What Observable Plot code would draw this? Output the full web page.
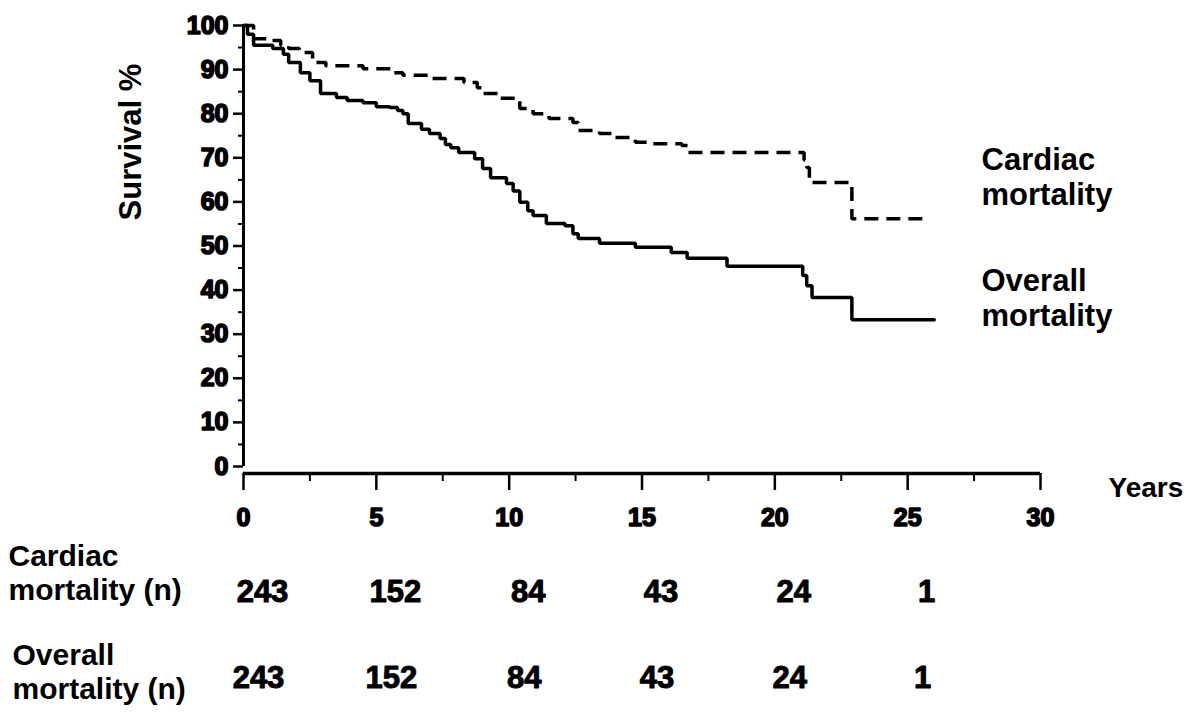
<!DOCTYPE html>
<html>
<head>
<meta charset="utf-8">
<script src="https://cdn.jsdelivr.net/npm/d3@7"></script>
<script src="https://cdn.jsdelivr.net/npm/@observablehq/plot@0.6"></script>
<style>
  html, body { margin: 0; padding: 0; background: #fff; }
</style>
</head>
<body>
<div id="chart"></div>
<script>
// Overall mortality (solid) Kaplan–Meier steps
const overallT = [0, 0.15, 0.38, 1.1, 1.5, 1.7, 2.14, 2.5, 2.9, 3.5, 3.9, 4.5, 5.0, 5.5, 5.8, 6.0, 6.2, 6.7, 7.0, 7.4, 7.6, 7.8, 8.1, 8.7, 9.0, 9.3, 9.9, 10.15, 10.4, 10.7, 10.9, 11.4, 12.1, 12.4, 12.6, 13.4, 14.75, 16.1, 16.7, 18.2, 21.05, 21.2, 21.4, 22.9, 26.0];
const overallS = [100, 98, 95.5, 94.8, 93.5, 91.6, 89.3, 87.5, 84.6, 83.7, 83, 82.5, 81.6, 81.4, 80.7, 80, 77.8, 76.5, 75.5, 74.4, 73, 72.3, 71.2, 69.8, 67.6, 65.5, 64.2, 62.5, 59.9, 58, 56.9, 55.1, 54.6, 52.8, 51.7, 50.6, 49.7, 48.5, 47.2, 45.4, 43.3, 41, 38.3, 33.3, 33.3];

// Cardiac mortality (dashed)
const cardiacT = [0, 0.38, 0.9, 1.4, 1.7, 2.1, 2.6, 3.1, 4.5, 5.6, 6.0, 7.0, 8.3, 8.8, 9.0, 9.6, 10.4, 10.9, 11.5, 12.4, 12.6, 13.4, 14.0, 14.75, 15.3, 16.5, 16.75, 21.1, 21.2, 21.3, 22.9, 25.7];
const cardiacS = [100, 97, 96.6, 95.5, 94.8, 93.9, 91.6, 90.9, 90.2, 89.3, 88.7, 88, 87.1, 85.9, 84.6, 83.5, 81.2, 80, 78.9, 78, 76.2, 75.5, 74.6, 73.5, 73.2, 72.8, 71.2, 69.5, 67.8, 64.4, 56.2, 56.2];

// Numbers at risk
const riskTimes = [0, 5, 10, 15, 20, 25];
const cardiacN = [243, 152, 84, 43, 24, 1];
const overallN = [243, 152, 84, 43, 24, 1];

// Ticks
const yTicks = [0, 10, 20, 30, 40, 50, 60, 70, 80, 90, 100];
const yMinor = [5, 15, 25, 35, 45, 55, 65, 75, 85, 95];
const xTicks = [0, 5, 10, 15, 20, 25, 30];
const xMinor = [2.5, 7.5, 12.5, 17.5, 22.5, 27.5];

const overall = overallT.map((t, i) => ({t, s: overallS[i]}));
const cardiac = cardiacT.map((t, i) => ({t, s: cardiacS[i]}));
const cardiacRisk = riskTimes.map((t, i) => ({t, n: String(cardiacN[i])}));
const overallRisk = riskTimes.map((t, i) => ({t, n: String(overallN[i])}));

const chart = Plot.plot({
  width: 1200,
  height: 719,
  marginLeft: 243,
  marginRight: 160,
  marginTop: 25,
  marginBottom: 253,
  x: {domain: [0, 30]},
  y: {domain: [0, 100]},
  style: {
    fontFamily: "'Liberation Sans', Arial, Helvetica, sans-serif",
    fontWeight: "bold",
    background: "white",
    color: "black",
    overflow: "visible"
  },
  marks: [
    // axis lines
    Plot.ruleX([0], {strokeWidth: 3}),
    Plot.ruleY([0], {dy: 7, strokeWidth: 3.5}),
    // y axis
    Plot.axisY(yTicks, {tickSize: 10, tickPadding: 5, fontSize: 25, strokeWidth: 2.5, label: null, fill: "black", textStroke: "black", textStrokeWidth: 1.6}),
    Plot.axisY(yMinor, {tickSize: 5, text: null, strokeWidth: 2, label: null}),
    // x axis
    Plot.axisX(xTicks, {tickSize: 17, tickPadding: 18, dy: 7, fontSize: 25, strokeWidth: 2.5, label: null, fill: "black", textStroke: "black", textStrokeWidth: 1.6}),
    Plot.axisX(xMinor, {tickSize: 8, text: null, dy: 7, strokeWidth: 2, label: null}),
    // curves
    Plot.line(cardiac, {x: "t", y: "s", curve: "step-after", stroke: "black", strokeWidth: 3.5, strokeDasharray: "14,8", strokeLinejoin: "miter", strokeLinecap: "butt"}),
    Plot.line(overall, {x: "t", y: "s", curve: "step-after", stroke: "black", strokeWidth: 3.5, strokeLinejoin: "miter"}),
    // axis titles
    Plot.text(["Survival %"], {frameAnchor: "left", rotate: -90, dx: -112, dy: -104, fontSize: 31, lineAnchor: "middle", textAnchor: "middle", fill: "black"}),
    Plot.text(["Years"], {frameAnchor: "bottom-right", textAnchor: "start", lineAnchor: "middle", dx: 68, dy: 22, fontSize: 28, fill: "black"}),
    // curve labels
    Plot.text(["Cardiac\nmortality"], {frameAnchor: "top-right", textAnchor: "start", lineAnchor: "top", dx: -59, dy: 120, fontSize: 31, lineHeight: 1.13, fill: "black"}),
    Plot.text(["Overall\nmortality"], {frameAnchor: "top-right", textAnchor: "start", lineAnchor: "top", dx: -59, dy: 241, fontSize: 31, lineHeight: 1.13, fill: "black"}),
    // numbers at risk table
    Plot.text(["Cardiac\nmortality (n)"], {frameAnchor: "bottom-left", textAnchor: "start", lineAnchor: "top", dx: -235, dy: 75, fontSize: 30, lineHeight: 1.15, fill: "black"}),
    Plot.text(["Overall\nmortality (n)"], {frameAnchor: "bottom-left", textAnchor: "start", lineAnchor: "top", dx: -231, dy: 174, fontSize: 30, lineHeight: 1.15, fill: "black"}),
    Plot.text(cardiacRisk, {x: "t", text: "n", frameAnchor: "bottom", dx: 19, dy: 126, fontSize: 31, lineAnchor: "middle", fill: "black", stroke: "black", strokeWidth: 1}),
    Plot.text(overallRisk, {x: "t", text: "n", frameAnchor: "bottom", dx: 15, dy: 212, fontSize: 31, lineAnchor: "middle", fill: "black", stroke: "black", strokeWidth: 1})
  ]
});

document.getElementById("chart").appendChild(chart);
</script>
</body>
</html>
